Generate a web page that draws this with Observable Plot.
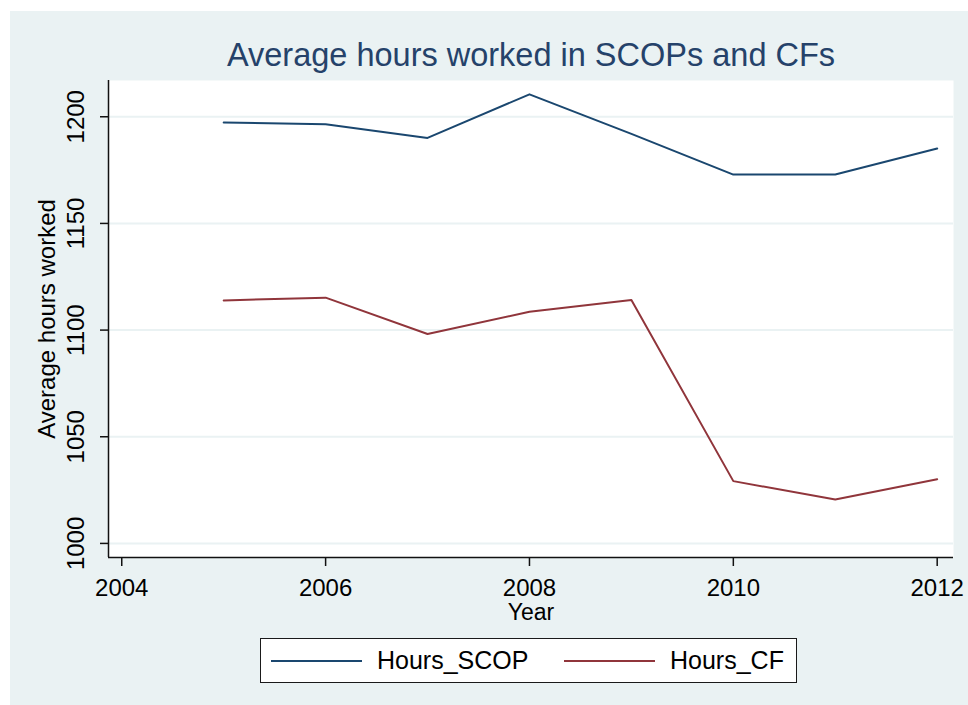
<!DOCTYPE html>
<html><head><meta charset="utf-8">
<script src="https://cdn.jsdelivr.net/npm/d3@7"></script>
<script src="https://cdn.jsdelivr.net/npm/@observablehq/plot@0.6"></script>
<style>
html,body{margin:0;padding:0;background:#fff;}
#wrap{position:relative;width:968px;height:705px;overflow:hidden;font-family:"Liberation Sans",Arial,sans-serif;}
#bg{position:absolute;left:10px;top:11px;right:0;bottom:0;background:#eaf2f3;}
#chart{position:absolute;left:0;top:0;}
#legend{position:absolute;left:260px;top:638px;width:535px;height:43px;border:1.5px solid #1a1a1a;background:#fff;}
.item{position:absolute;top:0;height:100%;display:flex;align-items:center;font-size:25px;color:#000;white-space:nowrap;}
.swatch{display:inline-block;width:91px;height:0;border-top:2px solid;margin-right:15px;}
</style></head><body>
<div id="wrap"><div id="bg"></div><div id="chart"></div><div id="legend"></div></div>
<script>
const years = [2005, 2006, 2007, 2008, 2009, 2010, 2011, 2012];
const hoursSCOP = [1197.3, 1196.5, 1190.1, 1210.5, 1192.0, 1172.9, 1172.9, 1185.1];
const hoursCF = [1113.9, 1115.2, 1098.2, 1108.6, 1114.1, 1029.2, 1020.6, 1030.1];
const seriesNames = ["Hours_SCOP", "Hours_CF"];
const seriesColors = ["#1a476f", "#90353b"];
const xTicks = [2004, 2006, 2008, 2010, 2012];
const yTicks = [1000, 1050, 1100, 1150, 1200];
const xDomain = [2003.87, 2012.16];
const yDomain = [993.4, 1217];
const titleText = "Average hours worked in SCOPs and CFs";
const xLabel = "Year";
const yLabel = "Average hours worked";

const rows = [];
years.forEach((yr, i) => {
  rows.push({year: yr, value: hoursSCOP[i], series: seriesNames[0]});
  rows.push({year: yr, value: hoursCF[i], series: seriesNames[1]});
});

const axisColor = "#111";
const chart = Plot.plot({
  width: 968,
  height: 705,
  marginLeft: 108,
  marginRight: 15,
  marginTop: 80,
  marginBottom: 148,
  style: {background: "transparent", fontFamily: "'Liberation Sans', Arial, sans-serif", overflow: "visible", color: "#000"},
  x: {domain: xDomain, axis: null},
  y: {domain: yDomain, axis: null},
  color: {domain: seriesNames, range: seriesColors},
  marks: [
    Plot.frame({fill: "white", stroke: "none"}),
    Plot.gridY(yTicks, {stroke: "#eaf2f3", strokeOpacity: 1, strokeWidth: 2}),
    Plot.line(rows, {x: "year", y: "value", z: "series", stroke: "series", strokeWidth: 2}),
    Plot.ruleX([xDomain[0]], {stroke: axisColor, strokeWidth: 1.5}),
    Plot.ruleY([yDomain[0]], {stroke: axisColor, strokeWidth: 1.5}),
    Plot.axisX({ticks: xTicks, tickSize: 9, tickPadding: 12, fontSize: 24, tickFormat: d => String(d), label: null, stroke: axisColor, strokeWidth: 1.5, fill: "#000"}),
    Plot.axisY({ticks: yTicks, tickSize: 8, tickFormat: () => "", label: null, stroke: axisColor, strokeWidth: 1.5}),
    Plot.text(yTicks, {y: d => d, text: d => String(d), frameAnchor: "left", dx: -25, rotate: -90, textAnchor: "middle", lineAnchor: "bottom", fontSize: 24, fill: "#000"}),
    Plot.text([yLabel], {text: d => d, frameAnchor: "left", dx: -54, rotate: -90, textAnchor: "middle", lineAnchor: "bottom", fontSize: 24, fill: "#000"}),
    Plot.text([xLabel], {text: d => d, frameAnchor: "bottom", dy: 62, lineAnchor: "bottom", fontSize: 23, fill: "#000"}),
    Plot.text([titleText], {text: d => d, frameAnchor: "top", dy: -15, lineAnchor: "bottom", fontSize: 32.5, fill: "#25426a"})
  ]
});
document.getElementById("chart").appendChild(chart);

const legend = d3.select("#legend");
const legendLeft = [10, 303];
seriesNames.forEach((name, i) => {
  const item = legend.append("div").attr("class", "item").style("left", legendLeft[i] + "px");
  item.append("span").attr("class", "swatch").style("border-top-color", seriesColors[i]);
  item.append("span").text(name);
});
</script>
</body></html>
